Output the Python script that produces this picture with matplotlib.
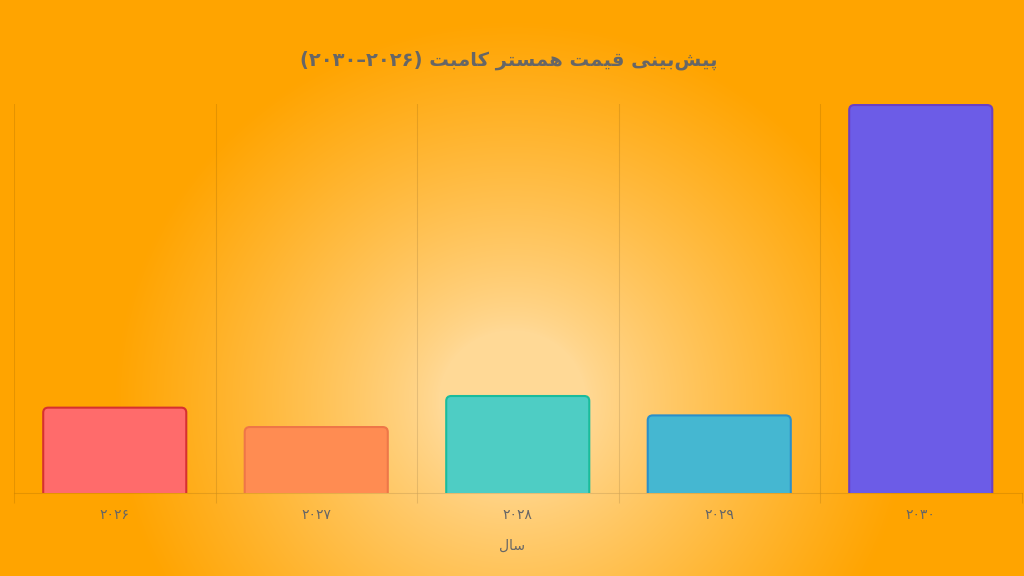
import re
import numpy as np
import matplotlib
matplotlib.use('Agg')
import matplotlib.pyplot as plt
from matplotlib.path import Path
from matplotlib.patches import PathPatch

plt.rcParams['font.family'] = ['DejaVu Sans']

# data
title = 'پیش‌بینی قیمت همستر کامبت (۲۰۲۶–۲۰۳۰)'
xlabel = 'سال'
years = ['۲۰۲۶', '۲۰۲۷', '۲۰۲۸', '۲۰۲۹', '۲۰۳۰']
prices = [0.022, 0.017, 0.025, 0.020, 0.100]
fills = ['#FF6B6B', '#FF8C52', '#4ECDC4', '#45B7D1', '#6C5CE7']
edges = ['#D63031', '#EE7648', '#1ABC9C', '#2B8FC9', '#6A3FC4']

# matplotlib does no arabic shaping, so pick the presentation forms by hand
FORMS = {
    'ا': ('\uFE8D', '\uFE8E', None, None),
    'ر': ('\uFEAD', '\uFEAE', None, None),
    'ب': ('\uFE8F', '\uFE90', '\uFE91', '\uFE92'),
    'پ': ('\uFB56', '\uFB57', '\uFB58', '\uFB59'),
    'ت': ('\uFE95', '\uFE96', '\uFE97', '\uFE98'),
    'س': ('\uFEB1', '\uFEB2', '\uFEB3', '\uFEB4'),
    'ش': ('\uFEB5', '\uFEB6', '\uFEB7', '\uFEB8'),
    'ق': ('\uFED5', '\uFED6', '\uFED7', '\uFED8'),
    'ک': ('\uFB8E', '\uFB8F', '\uFB90', '\uFB91'),
    'ل': ('\uFEDD', '\uFEDE', '\uFEDF', '\uFEE0'),
    'م': ('\uFEE1', '\uFEE2', '\uFEE3', '\uFEE4'),
    'ن': ('\uFEE5', '\uFEE6', '\uFEE7', '\uFEE8'),
    'ه': ('\uFEE9', '\uFEEA', '\uFEEB', '\uFEEC'),
    'ی': ('\uFBFC', '\uFBFD', '\uFBFE', '\uFBFF'),
}
RIGHT_ONLY = set('اردذزژو')


def shape(s):
    out = []
    for i, c in enumerate(s):
        if c not in FORMS:
            out.append(c)
            continue
        prev = s[i - 1] if i > 0 else ''
        nxt = s[i + 1] if i + 1 < len(s) else ''
        jp = prev in FORMS and prev not in RIGHT_ONLY
        jn = nxt in FORMS and c not in RIGHT_ONLY
        iso, fin, ini, med = FORMS[c]
        out.append(med if jp and jn else fin if jp else ini if jn else iso)
    return ''.join(out).replace('\u200c', '')


def rtl(s):
    s = shape(s)
    runs = re.findall(r'[۰-۹]+|[^۰-۹]+', s)[::-1]
    mirror = str.maketrans('()', ')(')
    return ''.join(r if r[0] in '۰۱۲۳۴۵۶۷۸۹' else r[::-1].translate(mirror) for r in runs)


W, H = 1024, 576
fig = plt.figure(figsize=(W / 100, H / 100), dpi=100)

# radial background
bg = fig.add_axes([0, 0, 1, 1], zorder=0)
yy, xx = np.mgrid[0:H, 0:W]
r = np.hypot((xx - 512) / 1.05, yy - 400)
t = np.clip((r - 70) / 310, 0, 1) ** 0.85
inner = np.array([255, 217, 150]) / 255
outer = np.array([255, 164, 0]) / 255
img = inner[None, None, :] * (1 - t[..., None]) + outer[None, None, :] * t[..., None]
bg.imshow(img, aspect='auto', extent=[0, 1, 0, 1], interpolation='bilinear')
bg.axis('off')

ax = fig.add_axes([14 / W, 83 / H, 1007.5 / W, 389.5 / H], zorder=1)
ax.patch.set_alpha(0)
x = np.arange(len(years))
ymax = 0.1004
ax.set_xlim(-0.5, len(years) - 0.5)
ax.set_ylim(0, ymax)

bars = ax.bar(x, prices, width=0.71)
rx = 5 * (len(years) / 1007.5)
ry = 5 * (ymax / 389.5)
for b, fc, ec in zip(bars, fills, edges):
    x0, w, h = b.get_x(), b.get_width(), b.get_height()
    verts = [(x0, 0), (x0, h - ry), (x0, h), (x0 + rx, h), (x0 + w - rx, h),
             (x0 + w, h), (x0 + w, h - ry), (x0 + w, 0)]
    codes = [Path.MOVETO, Path.LINETO, Path.CURVE3, Path.CURVE3, Path.LINETO,
             Path.CURVE3, Path.CURVE3, Path.LINETO]
    b.set_visible(False)
    ax.add_patch(PathPatch(Path(verts, codes), facecolor=fc, edgecolor=ec,
                           linewidth=1.5, zorder=3))

gridc = (0, 0, 0, 0.1)
ax.set_xticks(x)
ax.set_xticklabels(years, fontsize=10, color='#666666')
ax.set_xticks(np.arange(-0.5, len(years)), minor=True)
ax.tick_params(axis='x', which='major', length=0, pad=11)
ax.tick_params(axis='x', which='minor', length=7.5, color=gridc, width=0.8)
ax.grid(axis='x', which='minor', color='black', alpha=0.1, linewidth=0.8)
ax.set_yticks([])
for side in ['left', 'right', 'top']:
    ax.spines[side].set_visible(False)
ax.spines['bottom'].set_color(gridc)
ax.spines['bottom'].set_linewidth(0.8)

fig.text(0.5, 1 - 546 / H, rtl(xlabel), fontsize=10, color='#666666',
         ha='center', va='center')
fig.text(0.497, 1 - 60 / H, rtl(title), fontsize=14, fontweight='bold',
         color='#666666', ha='center', va='center')

fig.savefig('out.png', dpi=100)
